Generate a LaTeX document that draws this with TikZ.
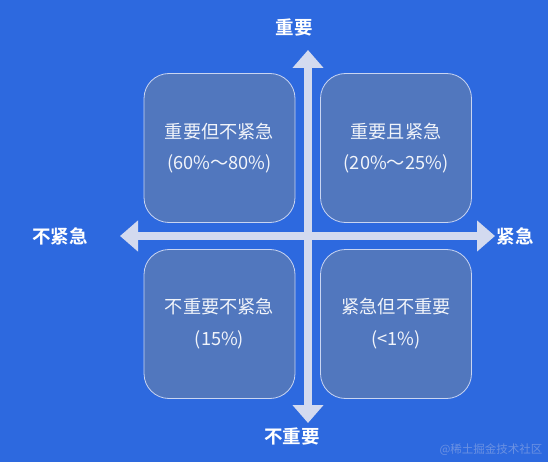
\documentclass[tikz,border=0pt]{standalone}
\usepackage{fontspec}
\setmainfont{Noto Sans CJK SC}[BoldFont={Noto Sans CJK SC Bold}]
\usetikzlibrary{arrows.meta}

\definecolor{bgblue}{HTML}{2D69DF}
\definecolor{boxblue}{HTML}{5177BE}
\definecolor{boxline}{HTML}{C9D5F2}
\definecolor{axiscol}{HTML}{D3DAEF}
\definecolor{marktext}{HTML}{6B91E2}

\tikzset{
  quad/.style={draw=boxline, line width=0.8pt, fill=boxblue, rounded corners=25pt,
    minimum width=151pt, minimum height=149pt},
  quadtext/.style={text=white!92!boxblue, font=\fontsize{18.2}{21}\selectfont},
  axislabel/.style={text=white, font=\fontsize{18.5}{21}\selectfont\bfseries},
  axis/.style={axiscol, line width=8pt,
    {Triangle[width=30pt,length=18pt]}-{Triangle[width=30pt,length=18pt]}}
}

\begin{document}
\begin{tikzpicture}[x=1pt,y=-1pt]
\fill[bgblue] (0,0) rectangle (548,462);
\useasboundingbox (0,0) rectangle (548,462);

% quadrants
\node[quad] (q1) at (219.5,148) {};
\node[quad] (q2) at (396,148) {};
\node[quad] (q3) at (219.5,324) {};
\node[quad] (q4) at (396,324) {};

\node[quadtext] at (219.5,132) {重要但不紧急};
\node[quadtext] at (219.5,164) {(60\%～80\%)};
\node[quadtext] at (396,132) {重要且紧急};
\node[quadtext] at (396,164) {(20\%～25\%)};
\node[quadtext] at (219.5,307) {不重要不紧急};
\node[quadtext] at (219.5,340) {(15\%)};
\node[quadtext] at (396,307) {紧急但不重要};
\node[quadtext] at (396,340) {(<1\%)};

% axes
\coordinate (up) at (308,50);
\coordinate (down) at (308,423);
\coordinate (left) at (120,236);
\coordinate (right) at (495,236);
\draw[axis] (down) -- (up);
\draw[axis] (left) -- (right);

\node[axislabel] (imp) at (294,27) {重要};
\node[axislabel] (notimp) at (292,436) {不重要};
\node[axislabel] (noturg) at (60,236) {不紧急};
\node[axislabel] (urg) at (515,236) {紧急};

\node[text=marktext, font=\fontsize{11.5}{13}\selectfont] (mark) at (491,450) {@稀土掘金技术社区};
\end{tikzpicture}
\end{document}
